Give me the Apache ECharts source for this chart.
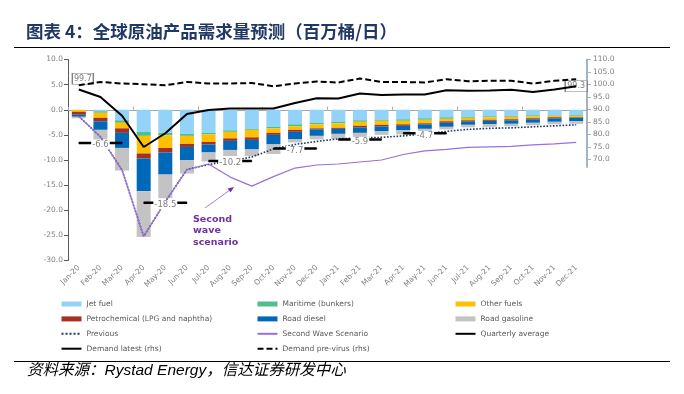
<!DOCTYPE html>
<html><head><meta charset="utf-8">
<script src="https://cdn.jsdelivr.net/npm/echarts@6/dist/echarts.min.js"></script>
<style>html,body{margin:0;padding:0;background:#fff}#c{width:684px;height:394px}</style>
</head><body><div id="c"></div>
<script>
const categories = ['Jan-20','Feb-20','Mar-20','Apr-20','May-20','Jun-20','Jul-20','Aug-20','Sep-20','Oct-20','Nov-20','Dec-20',
  'Jan-21','Feb-21','Mar-21','Apr-21','May-21','Jun-21','Jul-21','Aug-21','Sep-21','Oct-21','Nov-21','Dec-21'];
const jetFuel      = [0,-0.3,-2.1,-4.4,-4.6,-4.8,-4.6,-4.1,-3.8,-3.4,-2.9,-2.6,-2.4,-2.1,-2.0,-1.9,-1.7,-1.5,-1.4,-1.3,-1.2,-1.1,-1.1,-1.0];
const maritime     = [0,-0.3,-0.5,-0.8,-0.5,-0.4,-0.3,-0.3,-0.2,-0.3,-0.4,-0.3,-0.3,-0.3,-0.2,-0.3,-0.3,-0.3,-0.2,-0.2,-0.2,-0.2,-0.1,-0.2];
const otherFuels   = [-0.4,-1.0,-1.1,-3.5,-2.5,-1.6,-1.5,-1.3,-1.5,-0.9,-0.7,-0.8,-0.9,-0.8,-0.8,-0.7,-0.7,-0.5,-0.5,-0.5,-0.5,-0.4,-0.3,-0.3];
const petrochem    = [-0.6,-0.7,-0.9,-1.0,-0.9,-0.6,-0.5,-0.5,-0.5,-0.4,-0.4,-0.2,-0.2,-0.3,-0.3,-0.3,-0.2,-0.3,-0.2,-0.2,-0.2,-0.2,-0.2,-0.1];
const roadDiesel   = [-0.4,-1.7,-3.0,-6.5,-4.4,-2.6,-1.6,-1.8,-1.9,-1.9,-1.5,-1.3,-1.0,-1.1,-1.0,-0.9,-0.9,-0.8,-0.7,-0.7,-0.7,-0.7,-0.7,-0.7];
const roadGasoline = [-0.3,-1.9,-4.5,-9.1,-4.7,-2.7,-1.8,-1.2,-1.3,-1.9,-0.6,-0.7,-1.0,-0.9,-0.7,-0.8,-0.8,-0.5,-0.5,-0.5,-0.5,-0.5,-0.5,-0.5];
const previous     = [-1.3,-5.4,-12.0,-25.2,-18.3,-11.9,-10.9,-10.2,-9.4,-7.8,-6.9,-6.3,-5.8,-5.6,-5.5,-5.2,-4.8,-4.3,-3.9,-3.7,-3.6,-3.4,-3.2,-3.0];
const secondWave   = [-1.3,-5.4,-12.0,-25.2,-18.3,-11.9,-10.8,-13.4,-15.2,-13.3,-11.6,-11.0,-10.8,-10.4,-10.0,-8.9,-8.2,-7.9,-7.5,-7.4,-7.3,-7.0,-6.8,-6.5];
const quarterlyAvg = [-6.6,-18.5,-10.2,-7.7,-5.9,-4.7];
const demandLatest = [98.0,95.0,87.5,75.0,80.5,88.2,89.8,90.4,90.4,90.4,92.6,94.5,94.4,96.4,95.8,96.0,96.0,97.7,97.5,97.6,97.9,97.0,98.0,99.3];
const demandPreVirus = [99.7,101.0,100.4,100.1,99.7,101.0,100.4,100.4,100.6,99.3,100.4,101.2,100.8,102.4,101.0,101.0,100.8,102.1,101.3,101.5,101.5,100.4,101.5,102.1];
const leftTicks = [-30,-25,-20,-15,-10,-5,0,5,10];
const rightTicks = [70,75,80,85,90,95,100,105,110];

const FONT = "'DejaVu Sans', Verdana, sans-serif";
const GRAY = '#7f7f7f';
const chart = echarts.init(document.getElementById('c'));

function bar(name, data, color) {
  return { name, type: 'bar', stack: 'total', data, barWidth: 14, xAxisIndex: 0, yAxisIndex: 0,
    itemStyle: { color }, emphasis: { disabled: true } };
}
const quarterSeries = quarterlyAvg.map((q, k) => ({
  name: 'Quarterly average', type: 'line', xAxisIndex: 0, yAxisIndex: 0, z: 6,
  symbol: 'circle', symbolSize: 1, itemStyle: { color: '#000' },
  lineStyle: { color: '#000', width: 2.5 },
  data: categories.map((c, i) => {
    if (Math.floor(i / 3) !== k) return null;
    if (i % 3 === 1) return { value: q, label: { show: true, position: 'inside', offset: [0, 2],
      formatter: () => q.toFixed(1), color: GRAY, fontSize: 8.5, fontFamily: FONT,
      backgroundColor: '#fff', padding: [0, 1] } };
    return q;
  })
}));

const lineItem = name => ({ name, itemStyle: { opacity: 0 } });
const rectItem = name => ({ name, icon: 'rect' });
const legendBase = { orient: 'vertical', itemWidth: 20, itemHeight: 5, itemGap: 4.9, padding: 0, top: 299,
  selectedMode: false, textStyle: { fontSize: 7.5, color: '#595959', fontFamily: FONT, lineHeight: 10 } };

chart.setOption({
  animation: false,
  title: { text: '图表 4：全球原油产品需求量预测（百万桶/日）', left: 26, top: 23, padding: 0,
    textStyle: { fontFamily: "'Noto Sans CJK SC'", fontWeight: 'bold', fontSize: 17.5, color: '#1f3864' } },
  grid: [
    { left: 68, right: 97, top: 59.5, height: 201 },
    { left: 68, right: 97, top: 59.5, height: 107.5 }
  ],
  legend: [
    Object.assign({}, legendBase, { left: 60.5, data: [rectItem('Jet fuel'), rectItem('Petrochemical (LPG and naphtha)'), lineItem('Previous'), lineItem('Demand latest (rhs)')] }),
    Object.assign({}, legendBase, { left: 256.5, data: [rectItem('Maritime (bunkers)'), rectItem('Road diesel'), lineItem('Second Wave Scenario'), lineItem('Demand pre-virus (rhs)')] }),
    Object.assign({}, legendBase, { left: 454.5, data: [rectItem('Other fuels'), rectItem('Road gasoline'), lineItem('Quarterly average')] })
  ],
  xAxis: [
    { type: 'category', gridIndex: 0, data: categories, position: 'bottom',
      axisLine: { onZero: true, lineStyle: { color: '#a6a6a6', width: 1 } },
      axisTick: { show: true, inside: true, length: 3, lineStyle: { color: '#a6a6a6' } },
      axisLabel: { show: false }, splitLine: { show: false } },
    { type: 'category', gridIndex: 0, data: categories, position: 'bottom',
      axisLine: { show: false, onZero: false }, axisTick: { show: false },
      axisLabel: { rotate: 45, interval: 0, fontSize: 7.5, color: GRAY, fontFamily: FONT, margin: 6 } },
    { type: 'category', gridIndex: 1, data: categories, show: false }
  ],
  yAxis: [
    { type: 'value', gridIndex: 0, min: leftTicks[0], max: leftTicks[leftTicks.length-1], interval: 5,
      axisLine: { show: true, lineStyle: { color: '#595959', width: 1 } },
      axisTick: { show: true, length: 4, lineStyle: { color: '#595959' } },
      axisLabel: { formatter: v => v.toFixed(1), fontSize: 7.5, color: GRAY, fontFamily: FONT, margin: 5 },
      splitLine: { show: false } },
    { type: 'value', gridIndex: 1, position: 'right', min: 67, max: 110,
      axisLine: { show: true, lineStyle: { color: '#a3b4c6', width: 2 } },
      axisTick: { show: true, length: 4, customValues: rightTicks, lineStyle: { color: '#a3b4c6' } },
      axisLabel: { customValues: rightTicks, formatter: v => Number(v).toFixed(1), fontSize: 7.5, color: GRAY, fontFamily: FONT, margin: 6 },
      splitLine: { show: false } }
  ],
  series: [
    bar('Jet fuel', jetFuel, '#93d2f9'),
    bar('Maritime (bunkers)', maritime, '#4fbf8c'),
    bar('Other fuels', otherFuels, '#ffc000'),
    bar('Petrochemical (LPG and naphtha)', petrochem, '#a5301f'),
    bar('Road diesel', roadDiesel, '#0068b8'),
    bar('Road gasoline', roadGasoline, '#c3c3c3'),
    { name: 'Previous', type: 'line', xAxisIndex: 0, yAxisIndex: 0, data: previous, symbol: 'none', z: 4,
      lineStyle: { type: 'dotted', color: '#1f3864', width: 1.6 }, itemStyle: { color: '#1f3864' } },
    { name: 'Second Wave Scenario', type: 'line', xAxisIndex: 0, yAxisIndex: 0, data: secondWave, symbol: 'none', z: 5,
      lineStyle: { color: '#9b6fd6', width: 1.2 }, itemStyle: { color: '#9b6fd6' } },
    ...quarterSeries,
    { name: 'Demand latest (rhs)', type: 'line', xAxisIndex: 2, yAxisIndex: 1, data: demandLatest, symbol: 'none', z: 7,
      lineStyle: { color: '#000', width: 2 }, itemStyle: { color: '#000' },
      markPoint: { silent: true, symbol: 'rect', symbolSize: [22, 11],
        itemStyle: { color: '#fff', borderColor: GRAY, borderWidth: 1 },
        label: { show: true, position: 'inside', color: GRAY, fontSize: 8, fontFamily: FONT, formatter: p => p.data.value.toFixed(1) },
        data: [{ coord: [categories.length - 1, demandLatest[demandLatest.length - 1]], value: demandLatest[demandLatest.length - 1] }] } },
    { name: 'Demand pre-virus (rhs)', type: 'line', xAxisIndex: 2, yAxisIndex: 1, data: demandPreVirus, symbol: 'none', z: 7,
      lineStyle: { color: '#000', width: 2, type: [6, 3] }, itemStyle: { color: '#000' },
      markPoint: { silent: true, symbol: 'rect', symbolSize: [21, 11], symbolOffset: [4, -6.5],
        itemStyle: { color: '#fff', borderColor: GRAY, borderWidth: 1 },
        label: { show: true, position: 'inside', color: GRAY, fontSize: 8, fontFamily: FONT, formatter: p => p.data.value.toFixed(1) },
        data: [{ coord: [0, demandPreVirus[0]], value: demandPreVirus[0] }] } }
  ],
  graphic: [
    { type: 'line', shape: { x1: 14, y1: 47.5, x2: 670, y2: 47.5 }, style: { stroke: '#000', lineWidth: 1 } },
    { type: 'line', shape: { x1: 14, y1: 361.5, x2: 670, y2: 361.5 }, style: { stroke: '#000', lineWidth: 1 } },
    { type: 'text', left: 27, top: 363, style: { text: '资料来源：Rystad Energy，信达证券研发中心',
      font: "italic 15.5px 'Liberation Sans', 'Noto Sans CJK SC'", fill: '#000' } },
    { type: 'text', left: 193, top: 214, z: 20, style: { text: 'Second\nwave\nscenario',
      font: "bold 9.5px 'DejaVu Sans'", lineHeight: 11.3, fill: '#7030a0' } },
    { type: 'line', z: 20, shape: { x1: 205, y1: 208, x2: 231, y2: 189.2 }, style: { stroke: '#a47fd8', lineWidth: 1 } },
    { type: 'polygon', z: 20, shape: { points: [[234, 187], [230.6, 192.5], [227.6, 188.5]] }, style: { fill: '#7030a0' } }
  ]
});
</script></body></html>
